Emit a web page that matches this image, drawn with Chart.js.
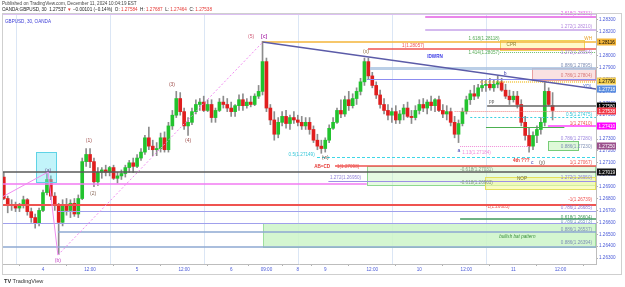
<!DOCTYPE html>
<html>
<head>
<meta charset="utf-8">
<script src="https://cdn.jsdelivr.net/npm/chart.js@4.4.1/dist/chart.umd.min.js"></script>
<style>
  html, body { margin: 0; padding: 0; background: #fff; }
  #wrap { position: relative; width: 625px; height: 287px; overflow: hidden; font-family: "Liberation Sans", Arial, sans-serif; }
  #chart { position: absolute; left: 0; top: 0; }
  .hdr { position: absolute; left: 2px; white-space: nowrap; font-size: 4.6px; color: #444; }
  .dn { color: #e53935; }
  #sym { position: absolute; left: 5px; top: 18.5px; font-size: 4.6px; color: #3b3bd6; white-space: nowrap; }
  #logo { position: absolute; left: 4px; top: 278px; font-size: 5.6px; color: #333; white-space: nowrap; }
</style>
</head>
<body>
<div id="wrap">
  <canvas id="chart" width="625" height="287"></canvas>
  <div class="hdr" style="top:0.5px">Published on TradingView.com, December 11, 2024 10:04:19 EST</div>
  <div class="hdr" style="top:6.5px;color:#222">OANDA:GBPUSD, 30&nbsp; 1.27537 <span class="dn">▼</span> −0.00101 (−0.14%)&nbsp; O: <span class="dn">1.27584</span>&nbsp; H: <span class="dn">1.27687</span>&nbsp; L: <span class="dn">1.27464</span>&nbsp; C: <span class="dn">1.27538</span></div>
  <div id="sym">GBPUSD, 30, OANDA</div>
  <div id="logo"><b style="font-weight:900">TV</b> TradingView</div>
</div>
<script>
// GBPUSD candles (Dec 3 14:00 -> Dec 11 10:00), one bar per hour
const opens = [
  1.2698,1.2680,1.2675,1.2674,1.2672,1.2674,1.2679,1.2669,1.2664,1.2659,
  1.2670,1.2685,1.2696,1.2682,1.2675,1.2660,1.2675,1.2670,1.2676,1.2667,
  1.2680,1.2711,1.2717,1.2711,1.2694,1.2702,1.2704,1.2702,1.2706,1.2697,
  1.2699,1.2701,1.2706,1.2710,1.2707,1.2714,1.2719,1.2731,1.2724,1.2721,
  1.2722,1.2731,1.2721,1.2741,1.2750,1.2764,1.2753,1.2741,1.2744,1.2753,
  1.2759,1.2761,1.2754,1.2759,1.2748,1.2754,1.2761,1.2759,1.2756,1.2753,
  1.2758,1.2763,1.2758,1.2761,1.2759,1.2766,1.2770,1.2795,1.2756,1.2746,
  1.2734,1.2744,1.2749,1.2743,1.2748,1.2746,1.2744,1.2741,1.2744,1.2738,
  1.2729,1.2724,1.2722,1.2729,1.2739,1.2744,1.2754,1.2751,1.2763,1.2758,
  1.2764,1.2770,1.2778,1.2795,1.2783,1.2775,1.2767,1.2759,1.2754,1.2750,
  1.2753,1.2746,1.2751,1.2756,1.2749,1.2748,1.2754,1.2759,1.2756,1.2761,
  1.2758,1.2763,1.2754,1.2751,1.2753,1.2744,1.2734,1.2743,1.2753,1.2763,
  1.2768,1.2766,1.2773,1.2775,1.2776,1.2773,1.2776,1.2778,1.2771,1.2766,
  1.2763,1.2766,1.2759,1.2744,1.2733,1.2724,1.2733,1.2738,1.2744,1.2770,
  1.2758
];
const highs = [
  1.2702,1.2682,1.2679,1.2677,1.2676,1.2682,1.2680,1.2672,1.2667,1.2672,
  1.2687,1.2701,1.2699,1.2685,1.2676,1.2679,1.2680,1.2679,1.2680,1.2683,
  1.2714,1.2722,1.2722,1.2714,1.2706,1.2706,1.2708,1.2707,1.2708,1.2702,
  1.2704,1.2708,1.2712,1.2714,1.2717,1.2722,1.2733,1.2740,1.2729,1.2727,
  1.2735,1.2736,1.2744,1.2754,1.2770,1.2769,1.2756,1.2748,1.2756,1.2763,
  1.2764,1.2766,1.2763,1.2763,1.2756,1.2764,1.2766,1.2764,1.2761,1.2759,
  1.2767,1.2768,1.2764,1.2766,1.2768,1.2775,1.2812,1.2798,1.2759,1.2753,
  1.2748,1.2753,1.2754,1.2750,1.2753,1.2750,1.2749,1.2748,1.2748,1.2741,
  1.2734,1.2729,1.2731,1.2742,1.2748,1.2756,1.2763,1.2766,1.2770,1.2768,
  1.2773,1.2781,1.2798,1.2798,1.2786,1.2778,1.2771,1.2764,1.2759,1.2756,
  1.2758,1.2754,1.2759,1.2761,1.2754,1.2758,1.2763,1.2764,1.2763,1.2766,
  1.2764,1.2766,1.2759,1.2758,1.2756,1.2749,1.2746,1.2756,1.2766,1.2771,
  1.2775,1.2776,1.2780,1.2780,1.2781,1.2780,1.2783,1.2781,1.2776,1.2771,
  1.2770,1.2770,1.2763,1.2749,1.2739,1.2736,1.2741,1.2748,1.2780,1.2773,
  1.2769
];
const lows = [
  1.2679,1.2668,1.2670,1.2669,1.2669,1.2672,1.2666,1.2660,1.2655,1.2657,
  1.2669,1.2683,1.2679,1.2670,1.2633,1.2657,1.2666,1.2664,1.2665,1.2664,
  1.2679,1.2707,1.2706,1.2690,1.2691,1.2697,1.2699,1.2699,1.2696,1.2693,
  1.2696,1.2698,1.2702,1.2702,1.2706,1.2712,1.2717,1.2721,1.2716,1.2716,
  1.2719,1.2719,1.2719,1.2738,1.2748,1.2750,1.2738,1.2733,1.2742,1.2751,
  1.2754,1.2753,1.2753,1.2744,1.2744,1.2753,1.2756,1.2753,1.2749,1.2749,
  1.2754,1.2754,1.2756,1.2757,1.2758,1.2764,1.2767,1.2753,1.2742,1.2729,
  1.2731,1.2741,1.2739,1.2738,1.2743,1.2741,1.2738,1.2738,1.2734,1.2727,
  1.2721,1.2718,1.2719,1.2727,1.2738,1.2743,1.2748,1.2749,1.2754,1.2756,
  1.2759,1.2767,1.2775,1.2780,1.2773,1.2764,1.2756,1.2751,1.2746,1.2744,
  1.2743,1.2743,1.2746,1.2748,1.2743,1.2746,1.2751,1.2753,1.2751,1.2754,
  1.2753,1.2753,1.2748,1.2746,1.2741,1.2731,1.2727,1.2741,1.2751,1.2759,
  1.2763,1.2764,1.2770,1.2770,1.2771,1.2770,1.2773,1.2770,1.2764,1.2759,
  1.2761,1.2756,1.2741,1.2729,1.2719,1.2721,1.2727,1.2734,1.2741,1.2758,
  1.2746
];
const closes = [
  1.2680,1.2675,1.2674,1.2672,1.2674,1.2679,1.2669,1.2664,1.2659,1.2670,
  1.2685,1.2696,1.2682,1.2675,1.2660,1.2675,1.2670,1.2676,1.2667,1.2680,
  1.2711,1.2717,1.2711,1.2694,1.2702,1.2704,1.2702,1.2706,1.2697,1.2699,
  1.2701,1.2706,1.2710,1.2707,1.2714,1.2719,1.2731,1.2724,1.2721,1.2722,
  1.2731,1.2721,1.2741,1.2750,1.2764,1.2753,1.2741,1.2744,1.2753,1.2759,
  1.2761,1.2754,1.2759,1.2748,1.2754,1.2761,1.2759,1.2756,1.2753,1.2758,
  1.2763,1.2758,1.2761,1.2759,1.2766,1.2770,1.2795,1.2756,1.2746,1.2734,
  1.2744,1.2749,1.2743,1.2748,1.2746,1.2744,1.2741,1.2744,1.2738,1.2729,
  1.2724,1.2722,1.2729,1.2739,1.2744,1.2754,1.2751,1.2763,1.2758,1.2764,
  1.2770,1.2778,1.2795,1.2783,1.2775,1.2767,1.2759,1.2754,1.2750,1.2753,
  1.2746,1.2751,1.2756,1.2749,1.2748,1.2754,1.2759,1.2756,1.2761,1.2758,
  1.2763,1.2754,1.2751,1.2753,1.2744,1.2734,1.2743,1.2753,1.2763,1.2768,
  1.2766,1.2773,1.2775,1.2776,1.2773,1.2776,1.2778,1.2771,1.2766,1.2763,
  1.2766,1.2759,1.2744,1.2733,1.2724,1.2733,1.2738,1.2744,1.2770,1.2759,
  1.2754
];

// time axis labels (bar index -> text) and session breaks
const tickIdx  = [10, 22, 34, 46, 58, 67, 75, 82, 94, 106, 118, 130, 142];
const tickText = ['4', '12:00', '5', '12:00', '6', '09:00', '8', '9', '12:00', '10', '12:00', '11', '12:00'];
const sessionIdx = [3, 27, 51, 75, 99, 123];

// drawings, in bar index / price units
// [price, fromBar, toBar (null = right edge), colour, width, dash]
const levels = [
  [1.28346, -1, null, '#dcc0f2', 2, []],
  [1.28329, 107.5, null, '#e35ee3', 1.5, []],
  [1.28216, 107.5, null, '#c6a2ea', 1.5, []],
  [1.28115, 66, null, '#f3b53a', 1.5, []],
  [1.28056, 92.9, null, '#ef5350', 1.5, []],
  [1.28027, 126.6, null, '#6cbf6c', 1, [1, 1]],
  [1.27897, 93.4, null, 'rgba(170,195,225,0.8)', 3, []],
  [1.27804, 92.6, null, '#8c8cf0', 1, []],
  [1.27779, 121.5, null, '#f2c744', 1.5, [1, 1]],
  [1.27580, 123.3, null, '#666666', 1.5, []],
  [1.27538, 115, null, '#f08080', 1, [1, 1]],
  [1.27485, 119, null, '#39d0e0', 1, [2, 2]],
  [1.27409, 138.8, null, '#ff40ff', 1.5, []],
  [1.27397, 123, 143, '#4cb050', 1, []],
  [1.27241, 116.4, 134.2, '#f08cd8', 1, [1, 1]],
  [1.27149, 79.9, null, '#3fd6e6', 1, [3, 2]],
  [1.27073, 84.5, null, '#ef5350', 1.5, []],
  [1.27023, -1, null, '#5a5a5a', 1.5, []],
  [1.26947, 82.8, null, '#9d8fe6', 1, []],
  [1.26921, -1, 92.6, '#f27af2', 1.5, []],
  [1.26745, -1, null, '#ef5350', 2, []],
  [1.26695, 13.8, null, '#a0a0ec', 1, []],
  [1.26628, 116.4, null, '#3f9a5c', 1.5, []],
  [1.26594, -1, null, '#a0a0ec', 1, []],
  [1.26519, 13.8, null, '#8ea9d2', 1.5, []],
  [1.26393, -1, null, '#8ea9d2', 1.5, []]
];
// [fromBar, toBar, priceTop, priceBottom, fill, stroke]
const boxes = [
  [8.2, 13.6, 1.27191, 1.26939, 'rgba(120,230,245,0.45)', '#5fd3e6'],
  [126.6, 148.3, 1.28132, 1.28048, 'rgba(255,246,170,0.65)', '#eed35a'],
  [134.7, null, 1.27897, 1.27796, 'rgba(244,190,190,0.45)', 'rgba(232,150,150,0.9)'],
  [138.8, 146.7, 1.27283, 1.27208, 'rgba(200,245,190,0.6)', '#77cc77'],
  [92.6, null, 1.27073, 1.26913, 'rgba(200,245,190,0.45)', '#8fd88f'],
  [122.8, null, 1.26977, 1.26884, 'rgba(245,250,165,0.65)', '#e5e05a'],
  [66.1, null, 1.26594, 1.26393, 'rgba(205,245,200,0.85)', '#9fdf9f']
];
// [bar1, price1, bar2, price2, colour, width, dash]
const segments = [
  [66, 1.28115, 151.1, 1.27720, '#5b5ba8', 1.5, []],
  [-0.4, 1.26813, 11.3, 1.27023, '#f08cf0', 1, []],
  [11.3, 1.27023, 13.8, 1.26325, '#f08cf0', 1, []],
  [13.8, 1.26325, 66.1, 1.28115, '#f08cf0', 1, [2, 2]]
];
// [bar, price, text, colour, align, style]
const notes = [
  [150.05, 1.28349, '2.618(1.28331)', '#e35ee3', 'right', ''],
  [150.05, 1.28240, '1.272(1.28210)', '#b58ae0', 'right', ''],
  [150.05, 1.28140, 'WH', '#e8a020', 'right', ''],
  [122.5, 1.28140, '1.618(1.28118)', '#55aa55', 'center', ''],
  [129.5, 1.28090, 'CPR', '#8b7d2e', 'center', ''],
  [101.6, 1.28081, '1(1.28057)', '#ef5350', 'left', ''],
  [122.5, 1.28023, '1.414(1.28057)', '#55aa55', 'center', ''],
  [150.05, 1.28023, '1.272(1.28054)', '#b58ae0', 'right', ''],
  [110, 1.27989, 'IDWRN', '#3a3ae6', 'center', 'bold'],
  [150.05, 1.27913, '0.886(1.27895)', '#7f8fb5', 'right', ''],
  [150.05, 1.27829, '0.786(1.27804)', '#d77a7a', 'right', ''],
  [150.05, 1.27737, 'YDL', '#4a66c8', 'right', ''],
  [123.8, 1.27611, 'pp', '#555555', 'left', ''],
  [150.05, 1.27502, '0.5(1.27475)', '#34c6d8', 'right', ''],
  [150.05, 1.27426, '1(1.27410)', '#ef5350', 'right', ''],
  [150.05, 1.27300, '0.786(1.27280)', '#a08be0', 'right', ''],
  [150.05, 1.27233, '0.886(1.27230)', '#7f8fb5', 'right', ''],
  [120.6, 1.27182, '1.13(1.27184)', '#f08cd8', 'center', ''],
  [79.3, 1.27166, '0.5(1.27149)', '#34c6d8', 'right', ''],
  [150.05, 1.27098, '1(1.27067)', '#ef5350', 'right', ''],
  [81.2, 1.27065, 'AB=CD', '#e53935', 'center', 'bold'],
  [85, 1.27065, '1(1.27098)', '#ef5350', 'left', ''],
  [132, 1.27115, '4th ???', '#e53935', 'center', 'bold'],
  [120.6, 1.27039, '-0.618(1.27031)', '#7f9a7f', 'center', ''],
  [120.6, 1.26930, '-0.618(1.26903)', '#7f9a7f', 'center', ''],
  [132.2, 1.26964, 'NOP', '#6e6e3c', 'center', ''],
  [83.2, 1.26972, '1.272(1.26950)', '#8f7fd8', 'left', ''],
  [150.05, 1.26972, '1.272(1.26950)', '#8f7fd8', 'right', ''],
  [150.05, 1.26787, '-1(1.26739)', '#ef5350', 'right', ''],
  [126, 1.26728, '-1(1.26685)', '#ef5350', 'center', ''],
  [150.05, 1.26720, '0.786(1.26685)', '#8f7fd8', 'right', ''],
  [150.05, 1.26636, '0.618(1.26604)', '#3f9a5c', 'right', ''],
  [150.05, 1.26603, '0.786(1.26573)', '#6d9fb5', 'right', ''],
  [150.05, 1.26535, '0.886(1.26537)', '#7f8fb5', 'right', ''],
  [150.05, 1.26426, '0.886(1.26394)', '#7f8fb5', 'right', ''],
  [131, 1.26477, 'bullish bat pattern', '#3b8f3b', 'center', 'italic']
];
// wave labels [text, bar, price, colour]
const waves = [
  ['(a)', 11.3, 1.27031, '#6b4f8f'],
  ['(b)', 13.8, 1.26280, '#c23fc2'],
  ['(1)', 21.7, 1.27283, '#a0524f'],
  ['(2)', 22.8, 1.26838, '#8a6a5a'],
  ['(3)', 42.9, 1.27754, '#a0524f'],
  ['(4)', 47, 1.27283, '#a0524f'],
  ['(5)', 63.1, 1.28157, '#d0607a'],
  ['[c]', 66.4, 1.28157, '#b03cb0'],
  ['(x)', 92.4, 1.28031, '#8a6a3a'],
  ['(w)', 82, 1.27141, '#6a5a4a'],
  ['a', 116.1, 1.27199, '#3b3bb0'],
  ['b', 127.9, 1.27846, '#3b3bb0'],
  ['c', 134.8, 1.27098, '#3b3bb0'],
  ['(y)', 137.3, 1.27098, '#5a4a3a']
];
// price scale tags [price, text, background, text colour]
const tags = [
  [1.28115, '1.28116', '#f3b53a', '#000'],
  [1.27790, '1.27790', '#f5cf52', '#000'],
  [1.27718, '1.27718', '#5a8ee0', '#fff'],
  [1.27580, '1.27580', '#000000', '#fff'],
  [1.27538, '1.27538', '#f23645', '#fff'],
  [1.27410, '1.27410', '#ff00ff', '#fff'],
  [1.27241, '1.27250', '#9b4f8c', '#fff'],
  [1.27023, '1.27019', '#111111', '#fff']
];

const UP = '#22c32e', DOWN = '#e01e1e', WICK = '#8c8c8c';
const FONT = '"Liberation Sans", Arial, sans-serif';

const drawings = {
  id: 'drawings',
  beforeDatasetsDraw(chart) {
    const { ctx, chartArea: a, scales: { x } } = chart;
    ctx.save();
    ctx.strokeStyle = '#dbe6f5';
    ctx.lineWidth = 1;
    sessionIdx.forEach(i => {
      const px = Math.round(x.getPixelForValue(i)) + 0.5;
      ctx.beginPath(); ctx.moveTo(px, a.top); ctx.lineTo(px, a.bottom); ctx.stroke();
    });
    ctx.restore();
  },
  afterDatasetsDraw(chart) {
    const { ctx, chartArea: a, scales: { x, y } } = chart;
    const X = v => v === null ? a.right : x.getPixelForValue(v);
    const Y = v => y.getPixelForValue(v);
    ctx.save();
    ctx.beginPath(); ctx.rect(a.left, a.top, a.right - a.left, a.bottom - a.top); ctx.clip();

    boxes.forEach(([b1, b2, p1, p2, fill, stroke]) => {
      const x1 = Math.round(X(b1)) + 0.5, x2 = Math.round(X(b2)) - 0.5;
      const y1 = Math.round(Y(p1)) + 0.5, y2 = Math.round(Y(p2)) + 0.5;
      ctx.fillStyle = fill; ctx.fillRect(x1, y1, x2 - x1, y2 - y1);
      ctx.strokeStyle = stroke; ctx.lineWidth = 1; ctx.setLineDash([]);
      ctx.strokeRect(x1, y1, x2 - x1, y2 - y1);
    });

    levels.forEach(([p, b1, b2, color, w, dash]) => {
      const py = Math.round(Y(p)) + (w % 2 === 1 ? 0.5 : 0);
      ctx.strokeStyle = color; ctx.lineWidth = w; ctx.setLineDash(dash);
      ctx.beginPath(); ctx.moveTo(X(b1), py); ctx.lineTo(X(b2), py); ctx.stroke();
    });

    segments.forEach(([b1, p1, b2, p2, color, w, dash]) => {
      ctx.strokeStyle = color; ctx.lineWidth = w; ctx.setLineDash(dash);
      ctx.beginPath(); ctx.moveTo(X(b1), Y(p1)); ctx.lineTo(X(b2), Y(p2)); ctx.stroke();
    });
    ctx.setLineDash([]);
    ctx.restore();

    ctx.save();
    ctx.textBaseline = 'middle';
    notes.forEach(([b, p, s, color, align, style]) => {
      ctx.font = (style ? style + ' ' : '') + '4.6px ' + FONT;
      ctx.fillStyle = color; ctx.textAlign = align;
      ctx.fillText(s, X(b), Y(p));
    });
    waves.forEach(([s, b, p, color]) => {
      ctx.font = (s === '[c]' ? 'bold ' : '') + '5px ' + FONT;
      ctx.fillStyle = color; ctx.textAlign = 'center';
      ctx.fillText(s, X(b), Y(p));
    });
    ctx.restore();
  },
  afterDraw(chart) {
    const { ctx, chartArea: a, scales: { y } } = chart;
    ctx.save();
    ctx.font = '4.6px ' + FONT;
    ctx.textBaseline = 'middle';
    ctx.textAlign = 'left';
    tags.forEach(([p, s, bg, fg]) => {
      const py = Math.round(y.getPixelForValue(p));
      ctx.fillStyle = bg; ctx.fillRect(a.right + 1, py - 3.5, 19, 7);
      ctx.fillStyle = fg; ctx.fillText(s, a.right + 2.5, py + 0.3);
    });
    ctx.strokeStyle = '#cfcfcf'; ctx.lineWidth = 1;
    ctx.strokeRect(2.5, 13.5, 619, 261);
    ctx.restore();
  }
};

const bodyColors = opens.map((o, i) => closes[i] >= o ? UP : DOWN);

new Chart(document.getElementById('chart'), {
  type: 'bar',
  data: {
    datasets: [
      {
        label: 'body',
        data: opens.map((o, i) => ({ x: i, y: [Math.min(o, closes[i]), Math.max(o, closes[i])] })),
        backgroundColor: bodyColors,
        barThickness: 3,
        minBarLength: 1,
        grouped: false
      },
      {
        label: 'wick',
        data: highs.map((h, i) => ({ x: i, y: [lows[i], h] })),
        backgroundColor: WICK,
        barThickness: 1,
        grouped: false
      }
    ]
  },
  options: {
    responsive: false,
    devicePixelRatio: 1,
    animation: false,
    events: [],
    layout: { padding: { left: 2, top: 14, right: 3, bottom: 13 } },
    plugins: { legend: { display: false }, tooltip: { enabled: false } },
    scales: {
      x: {
        type: 'linear',
        bounds: 'data',
        offset: false,
        min: -0.46,
        max: 151.07,
        afterBuildTicks: s => { s.ticks = tickIdx.map(v => ({ value: v })); },
        afterFit: s => { s.height = 10; },
        ticks: {
          autoSkip: false, maxRotation: 0, padding: 1,
          color: '#4a5ad8', font: { size: 4.6, family: FONT },
          callback: (v, i) => tickText[i]
        },
        grid: { drawOnChartArea: false, tickLength: 2, color: '#b0b0b0' },
        border: { color: '#bdbdbd' }
      },
      y: {
        type: 'linear',
        position: 'right',
        bounds: 'data',
        min: 1.26250,
        max: 1.28350,
        afterBuildTicks: s => {
          const t = [];
          for (let k = 1263; k <= 1283; k++) t.push({ value: k / 1000 });
          s.ticks = t;
        },
        afterFit: s => { s.width = 26; },
        ticks: {
          padding: 1, color: '#4a5ad8', font: { size: 4.6, family: FONT },
          callback: v => v.toFixed(5)
        },
        grid: { drawOnChartArea: false, tickLength: 2, color: '#b0b0b0' },
        border: { color: '#bdbdbd' }
      }
    }
  },
  plugins: [drawings]
});
</script>
</body>
</html>
